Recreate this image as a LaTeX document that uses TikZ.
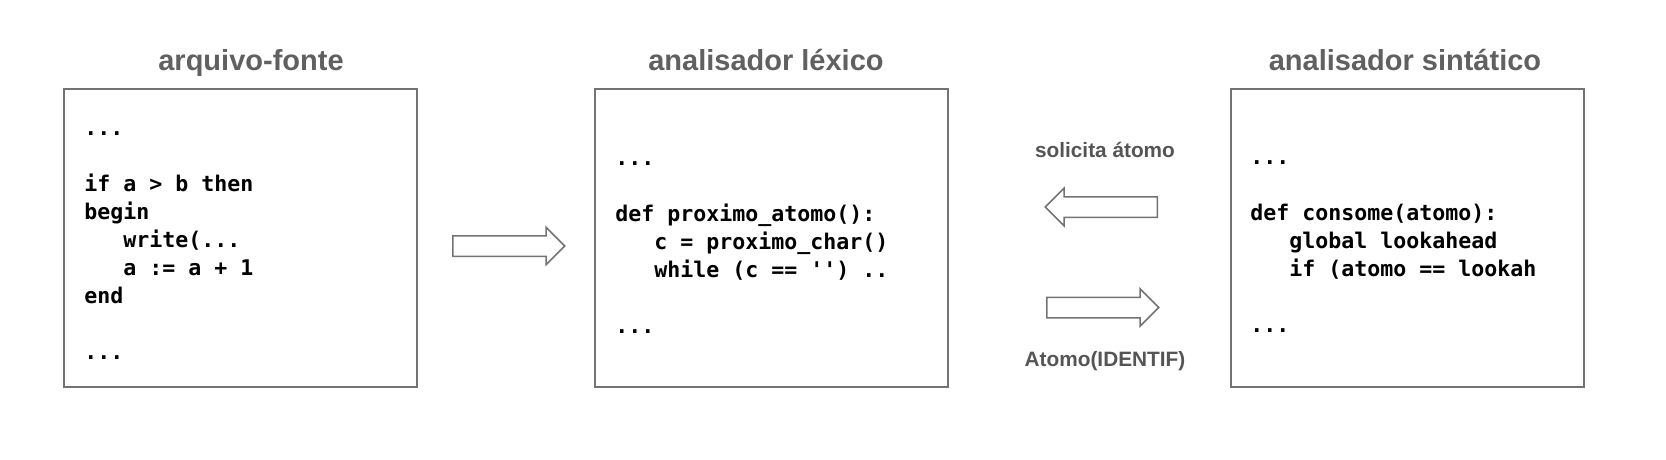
\documentclass[tikz,border=0pt]{standalone}
\usepackage{fontspec}
\setsansfont{Liberation Sans}
\setmonofont{DejaVu Sans Mono}
\usetikzlibrary{positioning,shapes.arrows}

\definecolor{titlegray}{HTML}{606060}
\definecolor{labelgray}{HTML}{555555}
\definecolor{boxgray}{HTML}{737373}

\tikzset{
    codebox/.style={draw=boxgray,line width=1pt,minimum width=176.5pt,minimum height=148.5pt,inner sep=0pt},
    code/.style={align=left,inner sep=0pt,anchor=base west,font=\fontsize{10.8}{14}\selectfont\ttfamily\bfseries},
    boxtitle/.style={anchor=base,text=titlegray,font=\fontsize{14.5}{17}\selectfont\sffamily\bfseries},
    msglabel/.style={anchor=base,text=labelgray,font=\fontsize{10.4}{12}\selectfont\sffamily\bfseries},
    fatarrow/.style={single arrow,draw=boxgray,line width=0.75pt,inner sep=0pt,inner ysep=4.75pt,
        minimum height=56pt,single arrow head extend=4.25pt,anchor=tail}
}

\begin{document}
\begin{tikzpicture}[x=0.5pt,y=-0.5pt]
    \useasboundingbox (0,0) rectangle (1666,460);
    % the three boxes
    \node[codebox] (fonte)     at (240.5,238) {};
    \node[codebox] (lexico)    at (771.5,238) {};
    \node[codebox] (sintatico) at (1407,238)  {};
    \node[boxtitle] (fontetitle)     at (251,71)  {arquivo-fonte};
    \node[boxtitle] (lexicotitle)    at (766,71)  {analisador léxico};
    \node[boxtitle] (sintaticotitle) at (1405,71) {analisador sintático};
    % code inside (anchored on the last line)
    \node[code] (fontecode) at (84,359)
        {...\\ \\if a > b then\\begin\\\ \ \ write(...\\\ \ \ a := a + 1\\end\\ \\...};
    \node[code] (lexicocode) at (615,333)
        {...\\ \\def proximo\_atomo():\\\ \ \ c = proximo\_char()\\\ \ \ while (c == \textquotesingle\textquotesingle) ..\\ \\...};
    \node[code] (sintaticocode) at (1250,332)
        {...\\ \\def consome(atomo):\\\ \ \ global lookahead\\\ \ \ if (atomo == lookah\\ \\...};
    % block arrows
    \node[fatarrow] (envia) at (452,246) {};
    \node[fatarrow,shape border rotate=180] (solicita) at (1158,207) {};
    \node[fatarrow] (retorna) at (1046,307.5) {};
    \node[msglabel] (pedido)   at (1105,158) {solicita átomo};
    \node[msglabel] (resposta) at (1105,366) {Atomo(IDENTIF)};
\end{tikzpicture}
\end{document}
